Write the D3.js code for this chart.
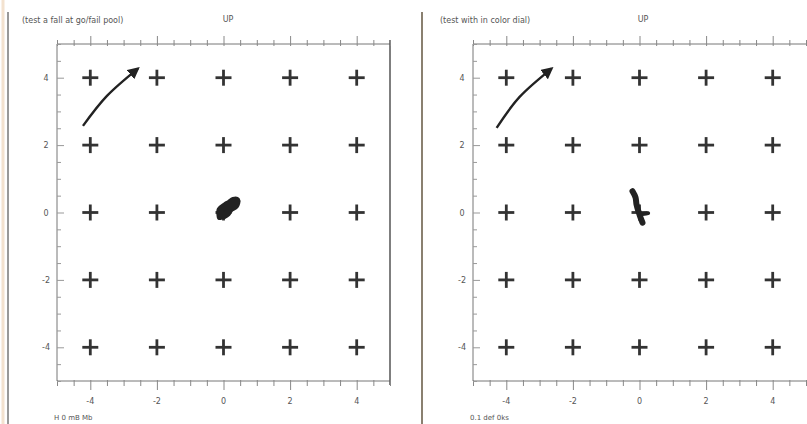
<!DOCTYPE html>
<html><head><meta charset="utf-8">
<script src="https://cdn.jsdelivr.net/npm/d3@7"></script>
<style>body{margin:0;background:#fff}svg{display:block}text{font-family:"DejaVu Sans",sans-serif;fill:#555}</style>
</head><body>
<svg id="c" width="807" height="424"></svg>
<script>
// ---- data ----
const gridValues = [-4, -2, 0, 2, 4];          // target cross positions (both axes)
const tickLabels = ["-4", "-2", "0", "2", "4"];
const minorTicks = d3.range(-5, 5.01, 0.5);
const panelTitles = ["(test a fall at go/fail pool)", "(test with in color dial)"];
const panelUp = ["UP", "UP"];
const panelNotes = ["H 0 mB Mb", "0.1 def 0ks"];
// arrow (direction hint) control points, data units
const arrowLeft  = [[-4.22, 2.57], [-3.5, 3.46], [-2.57, 4.27]];
const arrowRight = [[-4.29, 2.51], [-3.6, 3.43], [-2.64, 4.27]];
// gaze traces near the centre target
const traceLeft = [[-0.1,-0.12],[-0.1,0.08],[0.05,0.2],[0.18,0.28],[0.3,0.36],[0.4,0.36],[0.36,0.2],[0.2,0.1],[0.12,-0.02],[0.0,-0.1]];
const traceRight = [[-0.21,0.63],[-0.12,0.45],[-0.09,0.24],[-0.03,0.03],[0.03,-0.15],[0.09,-0.30]];
const traceRightHook = [[0.02,-0.04],[0.15,-0.04],[0.26,-0.02]];

// ---- drawing ----
const svg = d3.select("#c");
// scan edge lines
svg.append("line").attr("x1",3).attr("x2",3).attr("y1",0).attr("y2",424).attr("stroke","#f3e2cf").attr("stroke-width",3);
svg.append("line").attr("x1",8).attr("x2",8).attr("y1",12).attr("y2",424).attr("stroke","#777").attr("stroke-width",1.5);
svg.append("line").attr("x1",422).attr("x2",422).attr("y1",12).attr("y2",424).attr("stroke","#8a8070").attr("stroke-width",2);

const defs = svg.append("defs");
defs.append("marker").attr("id","ah").attr("viewBox","0 0 10 10").attr("refX",8).attr("refY",5)
  .attr("markerWidth",5).attr("markerHeight",5).attr("orient","auto")
  .append("path").attr("d","M0,0L10,5L0,10Z").attr("fill","#222");

const panels = [
  {x0:57, x1:390, arrow:arrowLeft, traces:[traceLeft], closed:true, rightEdge:true, titleX:22, upX:228},
  {x0:473, x1:806, arrow:arrowRight, traces:[traceRight, traceRightHook], closed:false, rightEdge:false, titleX:440, upX:643}
];
const y = d3.scaleLinear().domain([5,-5]).range([44,381]);

panels.forEach((p,i)=>{
  const x = d3.scaleLinear().domain([-5,5]).range([p.x0,p.x1]);
  const g = svg.append("g");
  const ax = "#777";
  g.append("line").attr("x1",p.x0).attr("x2",p.x1).attr("y1",y(5)).attr("y2",y(5)).attr("stroke",ax);
  g.append("line").attr("x1",p.x0).attr("x2",p.x1).attr("y1",y(-5)).attr("y2",y(-5)).attr("stroke",ax);
  g.append("line").attr("x1",p.x0).attr("x2",p.x0).attr("y1",y(5)).attr("y2",y(-5)).attr("stroke",ax);
  if (p.rightEdge) g.append("line").attr("x1",p.x1).attr("x2",p.x1).attr("y1",y(5)-4).attr("y2",y(-5)+4).attr("stroke","#555").attr("stroke-width",1.5);
  const isMajor = d => Math.abs(d % 2) < 1e-6;
  g.append("g").attr("transform",`translate(0,${y(5)})`)
    .call(d3.axisTop(x).tickValues(minorTicks).tickSize(5).tickFormat(""))
    .call(s=>{s.select(".domain").remove(); s.selectAll(".tick line").attr("stroke","#888").attr("y2",d=>isMajor(d)?-8:-4).attr("y1",2);});
  g.append("g").attr("transform",`translate(0,${y(-5)})`)
    .call(d3.axisBottom(x).tickValues(minorTicks).tickSize(5).tickFormat(""))
    .call(s=>{s.select(".domain").remove(); s.selectAll(".tick line").attr("stroke","#888").attr("y2",d=>isMajor(d)?9:5).attr("y1",-1);});
  g.append("g").attr("transform",`translate(${p.x0},0)`)
    .call(d3.axisRight(y).tickValues(minorTicks).tickSize(4).tickFormat(""))
    .call(s=>{s.select(".domain").remove(); s.selectAll(".tick line").attr("stroke","#999").attr("x2",d=>isMajor(d)?7:4);});
  g.selectAll(".xl").data(gridValues).join("text").attr("x",d=>x(d)).attr("y",404)
    .attr("text-anchor","middle").attr("font-size",8).text((d,j)=>tickLabels[j]);
  g.selectAll(".yl").data(gridValues).join("text").attr("x",p.x0-11).attr("y",d=>y(d)+3)
    .attr("text-anchor","middle").attr("font-size",8).text((d,j)=>tickLabels[j]);
  g.append("text").attr("x",p.titleX).attr("y",23).attr("font-size",8).text(panelTitles[i]);
  g.append("text").attr("x",p.upX).attr("y",22).attr("text-anchor","middle").attr("font-size",8).text(panelUp[i]);
  g.append("text").attr("x",p.x0-3).attr("y",420).attr("font-size",7).text(panelNotes[i]);
  const pts = [];
  gridValues.forEach(a=>gridValues.forEach(b=>pts.push([a,b])));
  const cr = g.selectAll(".cr").data(pts).join("g").attr("transform",d=>`translate(${x(d[0])},${y(d[1])})`);
  cr.append("line").attr("x1",-8).attr("x2",8).attr("stroke","#333").attr("stroke-width",2.8);
  cr.append("line").attr("y1",-8).attr("y2",8).attr("stroke","#333").attr("stroke-width",2.8);
  const line = d3.line().x(d=>x(d[0])).y(d=>y(d[1])).curve(d3.curveNatural);
  g.append("path").attr("d",line(p.arrow)).attr("fill","none").attr("stroke","#222").attr("stroke-width",2.4)
    .attr("marker-end","url(#ah)");
  p.traces.forEach((t,k)=>{
    const l = d3.line().x(d=>x(d[0])).y(d=>y(d[1])).curve(d3.curveCatmullRom);
    g.append("path").attr("d",l(t)).attr("fill", p.closed?"#222":"none").attr("stroke","#222")
      .attr("stroke-width", p.closed?7:(k===0?6:4)).attr("stroke-linecap","round").attr("stroke-linejoin","round");
  });
});
</script>
</body></html>
